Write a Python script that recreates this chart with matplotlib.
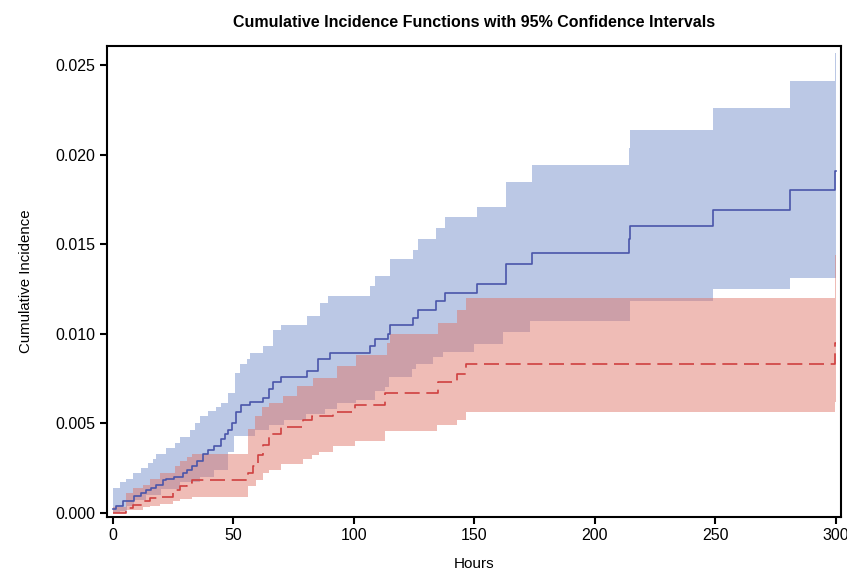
import numpy as np
import matplotlib
matplotlib.use("Agg")
import matplotlib.pyplot as plt

# step start times (hours) and values, each value holds until the next time
blue_t = [0, 1.4, 4.1, 9, 11.8, 13.8, 15.9, 18, 20.7, 22.1, 25.6, 29, 31, 33, 35,
          37.5, 39.4, 42.2, 44.9, 46.5, 48, 49.5, 51.3, 53.4, 56.8, 62.2, 65, 66.5,
          70, 80.4, 85, 90, 106.6, 108.7, 114.4, 115.1, 124.5, 126.6, 134, 138, 151,
          163, 174, 214.2, 214.8, 249, 281, 299.6]
blue_cif = [0.0002, 0.0004, 0.00063, 0.00095, 0.0011, 0.00125, 0.0014, 0.00157,
            0.0018, 0.0019, 0.002, 0.0022, 0.0024, 0.0026, 0.0029, 0.0033, 0.0035,
            0.0037, 0.0041, 0.0044, 0.0046, 0.005, 0.0056, 0.006, 0.0062, 0.0064,
            0.0069, 0.0073, 0.0076, 0.0079, 0.00856, 0.0089, 0.0093, 0.0097, 0.0100,
            0.01046, 0.0109, 0.0113, 0.0118, 0.0123, 0.0128, 0.0139, 0.01448, 0.0153,
            0.0160, 0.0169, 0.0180, 0.0191]

blue_hi_t = [0, 3, 5.7, 8.4, 11.8, 14.5, 16.5, 18, 22, 25.7, 28, 32, 34.3, 36.4, 39.4,
             43, 45, 48, 50.6, 52.7, 55.5, 56.8, 62.4, 66.5, 70, 80.4, 85.9, 89.3,
             106.6, 108.7, 115, 124.5, 126.6, 134, 138, 151, 163, 174, 214.2, 214.8,
             249, 281, 299.6]
blue_hi = [0.0014, 0.0017, 0.0019, 0.0022, 0.0025, 0.0028, 0.003, 0.0033, 0.0036,
           0.0039, 0.0042, 0.0046, 0.005, 0.0054, 0.0057, 0.0059, 0.0061, 0.0067,
           0.0078, 0.0083, 0.0086, 0.0089, 0.0093, 0.0102, 0.0105, 0.011, 0.0117,
           0.0121, 0.01266, 0.0132, 0.01415, 0.0147, 0.01527, 0.0159, 0.0165, 0.0171,
           0.0185, 0.0194, 0.0204, 0.0214, 0.0226, 0.0241, 0.0257]

blue_lo_t = [0, 3, 6, 9, 14, 20, 28, 36, 42, 48, 50.5, 59, 65, 71, 80, 88, 93, 101,
             108.7, 113, 114.8, 124, 126, 133, 137, 150, 162, 173, 214.5, 249, 281]
blue_lo = [0.0, 0.0001, 0.0004, 0.0007, 0.001, 0.0013, 0.0017, 0.002, 0.0024, 0.0034,
           0.0043, 0.0046, 0.0049, 0.0052, 0.0055, 0.0058, 0.0061, 0.0063, 0.0068,
           0.0070, 0.0076, 0.008, 0.0083, 0.0087, 0.009, 0.0094, 0.0101, 0.0107,
           0.0118, 0.0125, 0.0131]

red_t = [0, 5.7, 8.4, 12.6, 15.4, 19.5, 25, 28, 30.6, 32.7, 56.2, 58, 60.2, 62.2, 65,
         70, 79, 82.5, 91.5, 100.4, 112.9, 135, 142.9, 146.5, 299.6]
red_cif = [0.0, 0.00026, 0.00045, 0.00063, 0.0008, 0.0009, 0.00125, 0.00147, 0.00166,
           0.0018, 0.0022, 0.0026, 0.0032, 0.0038, 0.0044, 0.0048, 0.0052, 0.0054,
           0.0056, 0.006, 0.0067, 0.0073, 0.00776, 0.00828, 0.0095]

red_hi_t = [0, 5.7, 8.4, 12.6, 15.4, 19.5, 25.7, 28, 30.6, 32.7, 56.2, 59, 61.8, 65,
            70.8, 76.3, 83.3, 92.9, 101, 113.6, 115, 135, 143, 146.5, 299.6]
red_hi = [0.0003, 0.0011, 0.0014, 0.00157, 0.0019, 0.0022, 0.0026, 0.0029, 0.0031,
          0.0033, 0.0047, 0.0054, 0.0059, 0.0061, 0.0065, 0.0071, 0.0075, 0.0082,
          0.0088, 0.0095, 0.01, 0.0106, 0.0113, 0.012, 0.0144]

red_lo_t = [0, 5.7, 12.6, 15.4, 19.5, 25, 28, 32.7, 56.2, 59.5, 62.2, 65, 70, 79, 82.5,
            85.5, 91.5, 100.4, 113, 134.6, 143, 146.5, 299.6]
red_lo = [0.0, 0.00017, 0.0003, 0.0004, 0.0005, 0.00063, 0.00077, 0.0009, 0.00147,
          0.0018, 0.0022, 0.0024, 0.0027, 0.003, 0.0032, 0.0034, 0.0037, 0.004,
          0.00455, 0.0049, 0.0052, 0.0056, 0.0062]

t_end = 300


def step_at(grid, times, values):
    idx = np.searchsorted(times, grid, side="right") - 1
    return np.asarray(values)[np.clip(idx, 0, len(values) - 1)]


def band(ax, lo_t, lo, hi_t, hi, color, alpha, z):
    grid = np.unique(np.concatenate([lo_t, hi_t, [t_end]]))
    ax.fill_between(grid, step_at(grid, lo_t, lo), step_at(grid, hi_t, hi),
                    step="post", color=color, alpha=alpha, lw=0, zorder=z)


def curve(ax, times, values, **kw):
    ax.step(list(times) + [t_end], list(values) + [values[-1]], where="post", **kw)


plt.rcParams["font.family"] = ["Liberation Sans", "DejaVu Sans"]

fig = plt.figure(figsize=(8.47, 5.73), dpi=100)
ax = fig.add_axes([0.1263, 0.0983, 0.8672, 0.8214])

band(ax, blue_lo_t, blue_lo, blue_hi_t, blue_hi, (0.2, 0.35, 0.7), 0.33, 1)
band(ax, red_lo_t, red_lo, red_hi_t, red_hi, (0.876, 0.458, 0.41), 0.485, 2)
curve(ax, blue_t, blue_cif, color="#4a55aa", lw=1.2, zorder=4)
curve(ax, red_t, red_cif, color="#cf4040", lw=1.2, dashes=(9, 4), zorder=3)

ax.set_xlim(-2.4, 302.4)
ax.set_ylim(-0.000223, 0.02607)
ax.set_xticks([0, 50, 100, 150, 200, 250, 300])
ax.set_yticks([0.0, 0.005, 0.01, 0.015, 0.02, 0.025])
ax.set_yticklabels(["0.000", "0.005", "0.010", "0.015", "0.020", "0.025"])
for s in ax.spines.values():
    s.set_linewidth(1.5)
ax.tick_params(direction="out", length=5, width=1.5, labelsize=11.5)

ax.set_title("Cumulative Incidence Functions with 95% Confidence Intervals",
             fontsize=11.5, fontweight="bold", pad=14)
ax.set_xlabel("Hours", fontsize=11, labelpad=10)
ax.set_ylabel("Cumulative Incidence", fontsize=10.8, labelpad=16)

fig.savefig("out.png", dpi=100)
